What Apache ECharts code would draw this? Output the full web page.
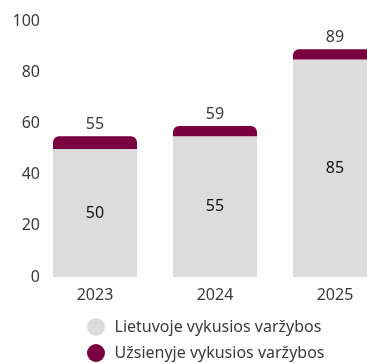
<!DOCTYPE html>
<html>
<head>
<meta charset="utf-8">
<script src="https://cdn.jsdelivr.net/npm/echarts@6/dist/echarts.min.js"></script>
<style>
  html, body { margin: 0; padding: 0; background: #fff; }
  #chart { width: 367px; height: 363px; }
</style>
</head>
<body>
<div id="chart"></div>
<script>
// Competitions per year: held in Lithuania vs. abroad
const years = ['2023', '2024', '2025'];
const domestic = [50, 55, 85];
const abroad = [5, 4, 4];
const totals = [55, 59, 89];
const seriesNames = ['Lietuvoje vykusios varžybos', 'Užsienyje vykusios varžybos'];

const FONT = 'Noto Sans';
const GREY = '#dcdcdc';
const WINE = '#7a003f';

const chart = echarts.init(document.getElementById('chart'));
chart.setOption({
  animation: false,
  textStyle: { fontFamily: FONT },
  // the plot runs past the right edge, so the last bar is cut off
  grid: {
    left: 35, width: 360, top: 21, height: 256,
    containLabel: false,
    outerBoundsMode: 'none'
  },
  legend: {
    orient: 'vertical',
    left: 82,
    top: 313,
    width: 280,
    height: 80,
    itemGap: 8,
    itemWidth: 19,
    itemHeight: 18,
    icon: 'circle',
    textStyle: { fontFamily: FONT, fontSize: 16, color: '#3a3a3a', padding: [0, 0, 0, 4] },
    data: seriesNames
  },
  xAxis: {
    type: 'category',
    data: years,
    axisLine: { show: false },
    axisTick: { show: false },
    axisLabel: { color: '#3a3a3a', fontSize: 16, margin: 10, fontFamily: FONT }
  },
  yAxis: {
    type: 'value',
    min: 0,
    max: 100,
    interval: 20,
    splitLine: { show: false },
    axisLine: { show: false },
    axisTick: { show: false },
    axisLabel: { color: '#3a3a3a', fontSize: 16, margin: -5, fontFamily: FONT }
  },
  series: [
    {
      name: seriesNames[0],
      type: 'bar',
      stack: 'total',
      barWidth: 84,
      data: domestic,
      itemStyle: { color: GREY },
      label: {
        show: true,
        position: 'inside',
        color: '#111',
        fontSize: 16,
        fontFamily: FONT
      }
    },
    {
      name: seriesNames[1],
      type: 'bar',
      stack: 'total',
      barWidth: 84,
      data: abroad,
      itemStyle: { color: WINE, borderRadius: [6, 6, 0, 0] },
      label: {
        show: true,
        position: 'top',
        distance: 4,
        color: '#3a3a3a',
        fontSize: 16,
        fontFamily: FONT,
        formatter: p => String(totals[p.dataIndex])
      }
    }
  ]
});
</script>
</body>
</html>
